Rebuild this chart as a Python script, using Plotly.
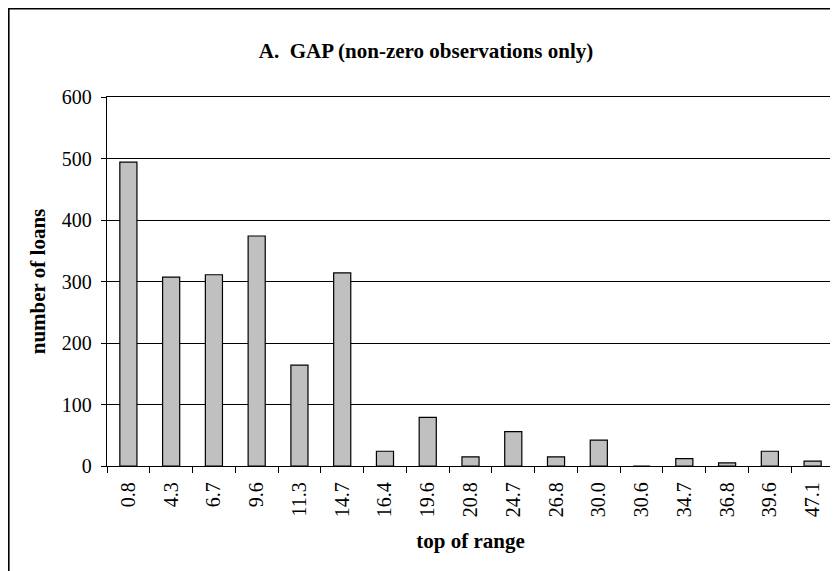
import plotly.graph_objects as go

categories = ["0.8", "4.3", "6.7", "9.6", "11.3", "14.7", "16.4", "19.6", "20.8",
              "24.7", "26.8", "30.0", "30.6", "34.7", "36.8", "39.6", "47.1"]
loans = [494, 307, 311, 374, 164, 314, 24, 79, 15, 56, 15, 42, 0, 12, 5, 24, 8]
y_ticks = [0, 100, 200, 300, 400, 500, 600]

FONT = "Liberation Serif, Times New Roman, serif"

fig = go.Figure()
fig.add_trace(go.Bar(
    x=categories, y=loans, width=0.4,
    marker=dict(color="#C0C0C0", line=dict(color="#000000", width=1.2)),
))

# page body has an 8px margin, so the figure is sized to fit the window
W, H = 830, 563
L, R, T, B = 99, 4, 89, 105
pw, ph = W - L - R, H - T - B

def px(x):
    return (x - L) / pw

def py(y):
    return (H - B - y) / ph

fig.update_layout(
    width=W, height=H,
    margin=dict(l=L, r=R, t=T, b=B),
    paper_bgcolor="white", plot_bgcolor="white",
    showlegend=False,
    font=dict(family=FONT, color="black", size=20),
    title=dict(text="<b>A.  GAP (non-zero observations only)</b>",
               x=418 / W, xanchor="center", y=1 - 43 / H, yanchor="middle",
               font=dict(family=FONT, size=21, color="black")),
    xaxis=dict(
        type="category", tickangle=-90, tickson="boundaries",
        ticks="outside", ticklen=6, tickcolor="black", tickwidth=1,
        ticklabelstandoff=7,
        showline=True, linecolor="black", linewidth=1.3, mirror=True,
        showgrid=False,
        tickfont=dict(family=FONT, size=20, color="black"),
        title=dict(text="<b>top of range</b>", standoff=17,
                   font=dict(family=FONT, size=21, color="black")),
    ),
    yaxis=dict(
        range=[0, 600], tickvals=y_ticks,
        ticks="outside", ticklen=5, tickcolor="black", tickwidth=1,
        ticklabelstandoff=5,
        showline=True, linecolor="black", linewidth=1.3, mirror=True,
        showgrid=True, gridcolor="black", gridwidth=1,
        zeroline=False,
        tickfont=dict(family=FONT, size=20, color="black"),
        title=dict(text="<b>number of loans</b>", standoff=10,
                   font=dict(family=FONT, size=21, color="black")),
    ),
    shapes=[dict(type="rect", xref="paper", yref="paper",
                 x0=px(0.8), x1=px(845), y0=py(600), y1=py(0.8),
                 line=dict(color="black", width=1.6), layer="above")],
)

fig.write_html("out.html")
